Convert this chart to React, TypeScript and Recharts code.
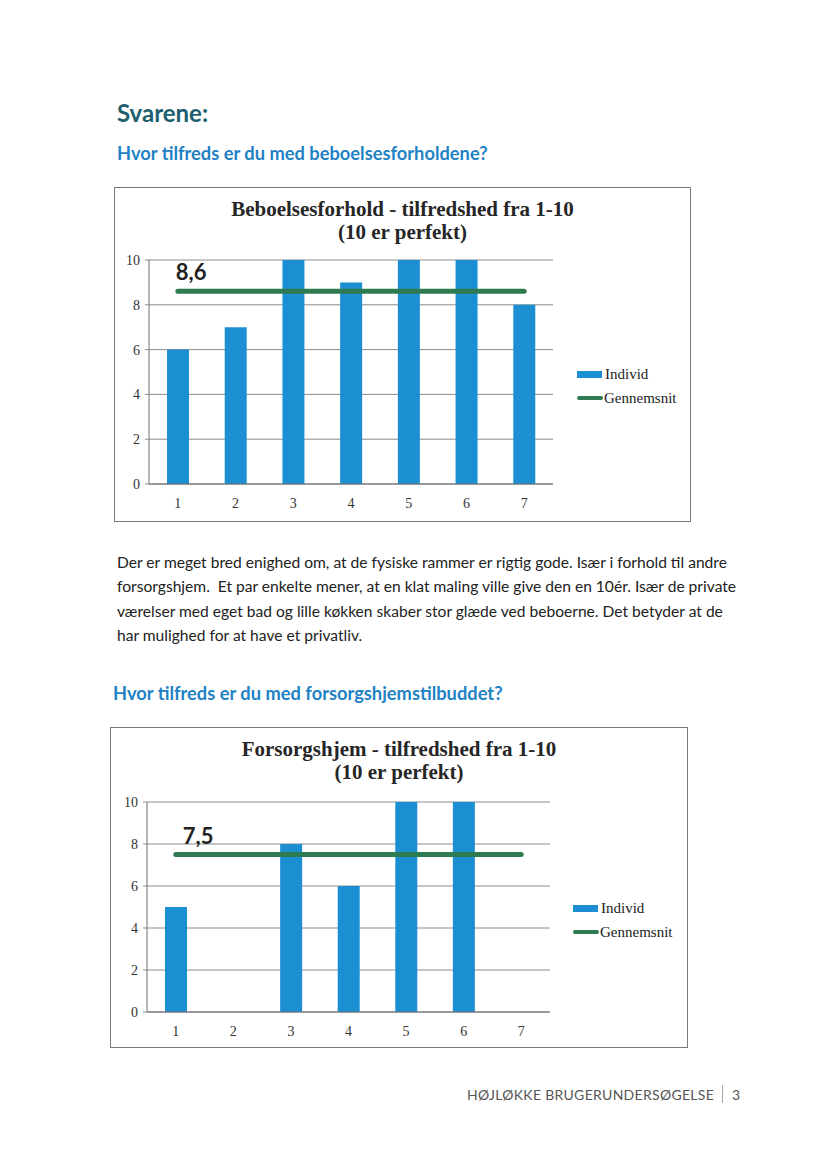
import { ComposedChart, Bar, Line, XAxis, YAxis, CartesianGrid, Legend, LabelList } from 'recharts'

const categories = ['1', '2', '3', '4', '5', '6', '7']
const yTicks = [0, 2, 4, 6, 8, 10]

const beboelseIndivid = [6, 7, 10, 9, 10, 10, 8]
const beboelseGennemsnit = 8.6

const forsorgIndivid = [5, null, 8, 6, 10, 10, null]
const forsorgGennemsnit = 7.5

const paragraphLines = [
  'Der er meget bred enighed om, at de fysiske rammer er rigtig gode. Især i forhold til andre',
  'forsorgshjem.  Et par enkelte mener, at en klat maling ville give den en 10ér. Især de private',
  'værelser med eget bad og lille køkken skaber stor glæde ved beboerne. Det betyder at de',
  'har mulighed for at have et privatliv.',
]

const BLUE = '#1c8fd2'
const GREEN = '#2e7b52'
const GRID = '#8c8c8c'
const SERIF = '"Liberation Serif", "DejaVu Serif", serif'
const SANS = 'Lato, "Open Sans", sans-serif'

function fmtComma(v: number): string {
  return v.toFixed(1).replace('.', ',')
}

function buildRows(individ: (number | null)[], avg: number) {
  return categories.map((c, i) => ({
    cat: c,
    individ: individ[i],
    avg,
    avgLabel: i === 0 ? fmtComma(avg) : undefined,
  }))
}

function LegendBox() {
  return (
    <div style={{ fontFamily: SERIF, fontSize: 15, color: '#222', lineHeight: '24px' }}>
      <div style={{ display: 'flex', alignItems: 'center' }}>
        <span style={{ display: 'inline-block', width: 25, height: 7, background: BLUE, marginRight: 3 }} />
        Individ
      </div>
      <div style={{ display: 'flex', alignItems: 'center' }}>
        <span style={{ display: 'inline-block', width: 26, height: 4, borderRadius: 2, background: GREEN, marginRight: 1 }} />
        Gennemsnit
      </div>
    </div>
  )
}

interface ChartProps {
  title: string
  individ: (number | null)[]
  avg: number
  left: number
  top: number
  width: number
  height: number
  margin: { top: number; right: number; left: number; bottom: number }
  legendPos: { left: number; top: number }
  labelDx: number
}

function SatisfactionChart({ title, individ, avg, left, top, width, height, margin, legendPos, labelDx }: ChartProps) {
  const rows = buildRows(individ, avg)
  return (
    <div style={{ position: 'absolute', left, top, width, height, border: '1px solid #7a7a7a', boxSizing: 'border-box', background: '#fff' }}>
      <div style={{ position: 'absolute', left: 0, right: 0, top: 10, textAlign: 'center', fontFamily: SERIF, fontWeight: 'bold', fontSize: 21, lineHeight: '23px', color: '#262626' }}>
        {title}
        <br />
        (10 er perfekt)
      </div>
      <ComposedChart width={width - 2} height={height - 2} data={rows} margin={margin}>
        <CartesianGrid vertical={false} stroke={GRID} strokeWidth={1} />
        <XAxis
          dataKey="cat"
          stroke="#6e6e6e"
          axisLine={{ stroke: '#6e6e6e' }}
          tickLine={false}
          tickMargin={8}
          tick={{ fontFamily: SERIF, fontSize: 14, fill: '#333' }}
        />
        <YAxis
          domain={[0, 10]}
          ticks={yTicks}
          width={22}
          stroke="#6e6e6e"
          axisLine={{ stroke: '#6e6e6e' }}
          tickLine={{ stroke: GRID }}
          tickSize={4}
          tickMargin={5}
          tick={{ fontFamily: SERIF, fontSize: 14, fill: '#333' }}
        />
        <Legend
          layout="vertical"
          align="center"
          verticalAlign="middle"
          wrapperStyle={{ left: legendPos.left, top: legendPos.top, width: 130 }}
          content={() => <LegendBox />}
        />
        <Bar dataKey="individ" name="Individ" fill={BLUE} barSize={22} isAnimationActive={false} />
        <Line
          dataKey="avg"
          name="Gennemsnit"
          stroke={GREEN}
          strokeWidth={5}
          strokeLinecap="round"
          dot={false}
          activeDot={false}
          isAnimationActive={false}
        >
          <LabelList
            dataKey="avgLabel"
            content={(p: any) =>
              p.value == null ? null : (
                <text x={p.x + labelDx} y={p.y - 11} fontFamily={SANS} fontWeight="bold" fontSize={22} fill="#222">
                  {p.value}
                </text>
              )
            }
          />
        </Line>
      </ComposedChart>
    </div>
  )
}

export default function App() {
  return (
    <div style={{ position: 'absolute', left: 0, top: 0, width: 827, height: 1169, background: '#fff', fontFamily: SANS }}>
      <div style={{ position: 'absolute', left: 117, top: 98, fontSize: 24, fontWeight: 'bold', color: '#1d5f6e' }}>Svarene:</div>
      <div style={{ position: 'absolute', left: 117, top: 142, fontSize: 18.3, fontWeight: 'bold', color: '#1f82c4' }}>
        Hvor tilfreds er du med beboelsesforholdene?
      </div>

      <SatisfactionChart
        title="Beboelsesforhold - tilfredshed fra 1-10"
        individ={beboelseIndivid}
        avg={beboelseGennemsnit}
        left={114}
        top={187}
        width={577}
        height={335}
        margin={{ top: 72, right: 137, left: 12, bottom: 7 }}
        legendPos={{ left: 462, top: 174 }}
        labelDx={-2}
      />

      <div style={{ position: 'absolute', left: 117, top: 550, fontSize: 15.6, lineHeight: '24.4px', color: '#222', whiteSpace: 'pre' }}>
        {paragraphLines.map((l) => (
          <div key={l}>{l}</div>
        ))}
      </div>

      <div style={{ position: 'absolute', left: 113, top: 682, fontSize: 18.3, fontWeight: 'bold', color: '#1f82c4' }}>
        Hvor tilfreds er du med forsorgshjemstilbuddet?
      </div>

      <SatisfactionChart
        title="Forsorgshjem - tilfredshed fra 1-10"
        individ={forsorgIndivid}
        avg={forsorgGennemsnit}
        left={110}
        top={727}
        width={578}
        height={321}
        margin={{ top: 74, right: 137, left: 14, bottom: 5 }}
        legendPos={{ left: 462, top: 168 }}
        labelDx={7}
      />

      <div style={{ position: 'absolute', left: 467, top: 1085, fontSize: 14, color: '#555', letterSpacing: 0.3, display: 'flex', alignItems: 'center' }}>
        <span>HØJLØKKE BRUGERUNDERSØGELSE</span>
        <span style={{ display: 'inline-block', width: 1, height: 18, background: '#aaa', margin: '0 9px 0 8px' }} />
        <span>3</span>
      </div>
    </div>
  )
}
